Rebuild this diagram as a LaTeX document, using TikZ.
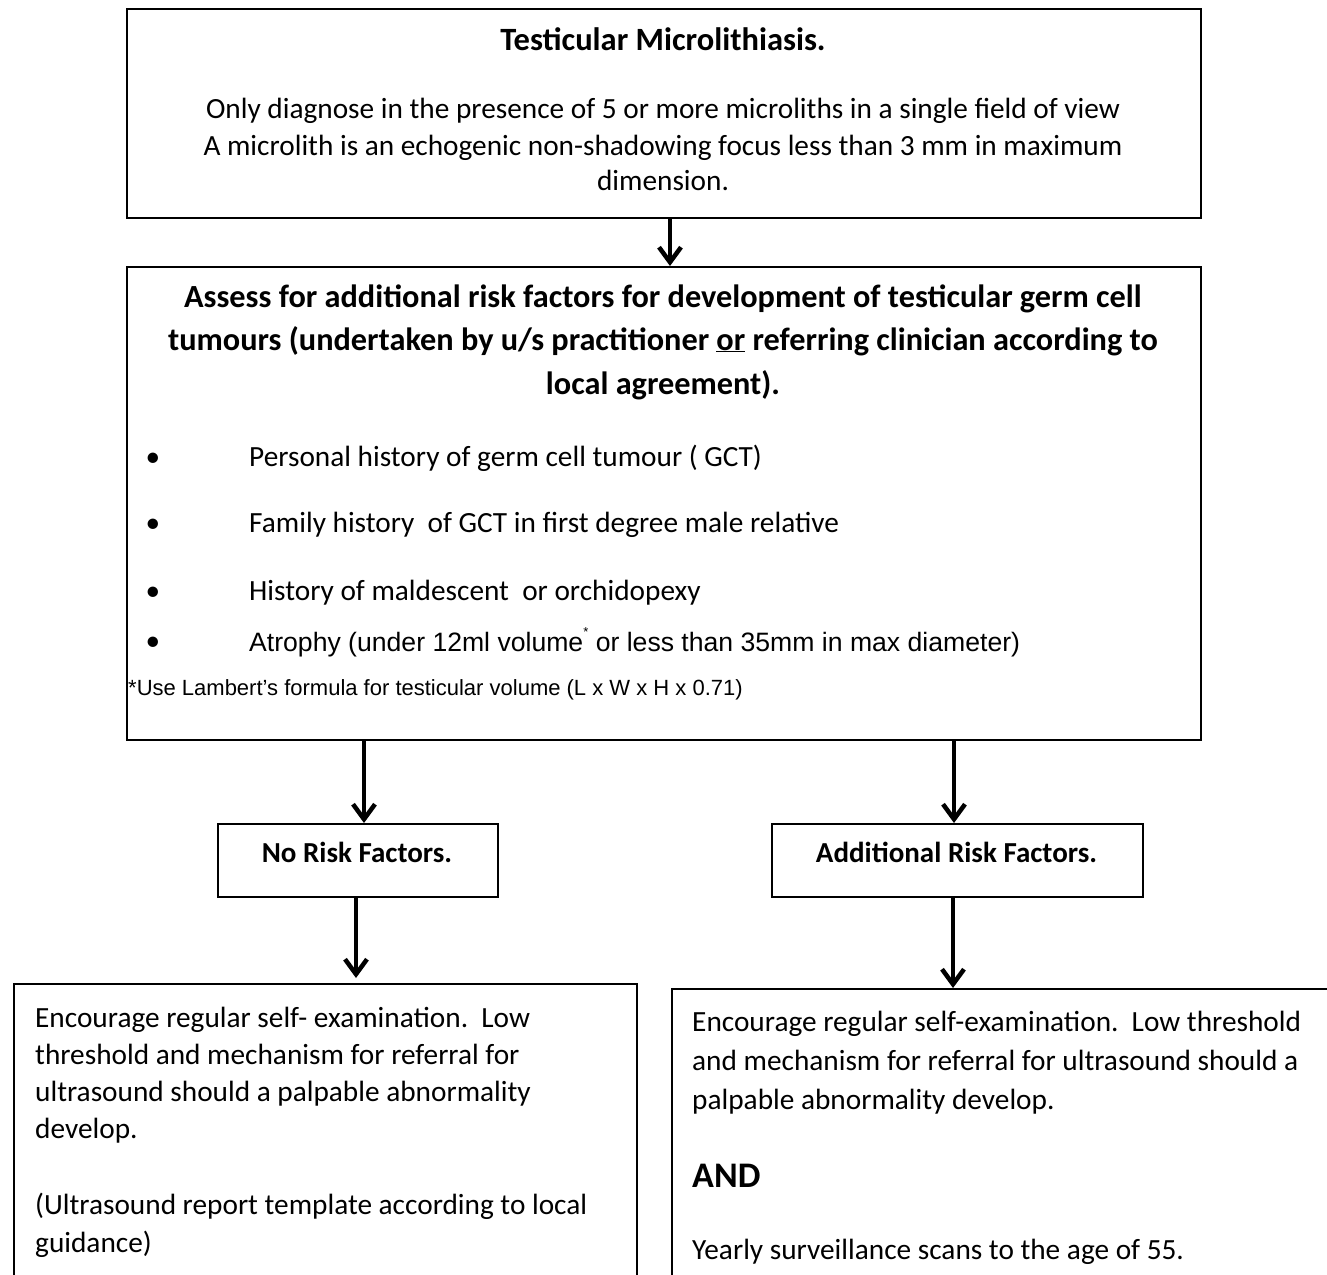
\documentclass[tikz,border=0pt]{standalone}
\usepackage{fontspec}
\setmainfont{Carlito}
\newfontfamily\arialf{Liberation Sans}
\usetikzlibrary{arrows.meta,calc}
\begin{document}
\begin{tikzpicture}[x=1pt,y=-1pt,
  box/.style={draw, line width=2pt, inner sep=0pt, anchor=north west},
  arr/.style={line width=4.5pt, -{Straight Barb[length=15pt,width=22pt]}},
  reg/.style={inner sep=0pt, font=\fontsize{29.3}{35}\selectfont},
  bld/.style={inner sep=0pt, font=\fontsize{32.3}{39}\selectfont\bfseries},
  sml/.style={inner sep=0pt, font=\fontsize{29}{35}\selectfont\bfseries},
  ari/.style={inner sep=0pt, font=\fontsize{26.6}{30}\selectfont\arialf},
  fnt/.style={inner sep=0pt, font=\fontsize{22}{26}\selectfont\arialf},
  lft/.style={anchor=base west},
  ctr/.style={anchor=base}]
\useasboundingbox (0,0) rectangle (1327,1274);
\clip (0,0) rectangle (1327,1274);

% boxes
\node[box, minimum width=1074pt, minimum height=209pt] (top) at (126,8) {};
\node[box, minimum width=1074pt, minimum height=473pt] (box2) at (126,266) {};
\node[box, minimum width=280pt, minimum height=73pt] (norisk) at (217,823) {};
\node[box, minimum width=371pt, minimum height=73pt] (add) at (771,823) {};
\node[box, minimum width=623pt, minimum height=400pt] (lbox) at (13,983) {};
\node[box, minimum width=700pt, minimum height=400pt] (rbox) at (671,988) {};

% top box text
\node[bld, ctr, font=\fontsize{32.5}{39}\selectfont\bfseries] (t0) at (663,50) {Testicular Microlithiasis.};
\node[reg, ctr] (t1) at (663,118) {Only diagnose in the presence of 5 or more microliths in a single field of view};
\node[reg, ctr] (t2) at (663,155) {A microlith is an echogenic non-shadowing focus less than 3 mm in maximum};
\node[reg, ctr] (t3) at (663,190) {dimension.};

% box2 text
\node[bld, ctr] (b1) at (663,307) {Assess for additional risk factors for development of testicular germ cell};
\node[bld, ctr] (b2) at (663,350) {tumours (undertaken by u/s practitioner \underline{or} referring clinician according to};
\node[bld, ctr] (b3) at (663,394) {local agreement).};

\node[reg, ctr] (d1) at (153,466) {•};
\node[reg, lft] (i1) at (249,466) {Personal history of germ cell tumour ( GCT)};
\node[reg, ctr] (d2) at (153,532) {•};
\node[reg, lft] (i2) at (249,532) {Family history\ \ of GCT in first degree male relative};
\node[reg, ctr] (d3) at (153,600) {•};
\node[reg, lft] (i3) at (249,600) {History of maldescent\ \ or orchidopexy};
\node[reg, ctr] (d4) at (153,650) {•};
\node[ari, lft] (i4) at (249,651) {Atrophy (under 12ml volume\raisebox{0.55em}{\fontsize{13}{13}\selectfont *} or less than 35mm in max diameter)};
\node[fnt, lft] (fn) at (128,695) {*Use Lambert’s formula for testicular volume (L x W x H x 0.71)};

% small boxes text
\node[sml, ctr] (nrt) at (357,862) {No Risk Factors.};
\node[sml, ctr] (adt) at (956.5,862) {Additional Risk Factors.};

% bottom left text
\node[reg, lft] (l1) at (35,1027) {Encourage regular self- examination.\ \ Low};
\node[reg, lft] (l2) at (35,1064) {threshold and mechanism for referral for};
\node[reg, lft] (l3) at (35,1101) {ultrasound should a palpable abnormality};
\node[reg, lft] (l4) at (35,1138) {develop.};
\node[reg, lft] (l5) at (35,1214) {(Ultrasound report template according to local};
\node[reg, lft] (l6) at (35,1252) {guidance)};

% bottom right text
\node[reg, lft] (r1) at (692,1031) {Encourage regular self-examination.\ \ Low threshold};
\node[reg, lft] (r2) at (692,1070) {and mechanism for referral for ultrasound should a};
\node[reg, lft] (r3) at (692,1109) {palpable abnormality develop.};
\node[reg, lft, font=\fontsize{36}{42}\selectfont\bfseries] (r4) at (692,1187) {AND};
\node[reg, lft] (r5) at (692,1259) {Yearly surveillance scans to the age of 55.};

% connectors
\draw[arr] ($(top.south)+(6,0)$) -- ($(box2.north)+(6,0)$);
\draw[arr] ($(box2.south -| norisk.north)+(6,0)$) -- ($(norisk.north)+(6,0)$);
\draw[arr] ($(box2.south -| add.north)+(-3.5,0)$) -- ($(add.north)+(-3.5,0)$);
\draw[arr] ($(norisk.south)+(-2,0)$) -- ($(norisk.south |- lbox.north)+(-2,-5)$);
\draw[arr] ($(add.south)+(-4.5,0)$) -- ($(add.south |- rbox.north)+(-4.5,0)$);
\end{tikzpicture}
\end{document}
